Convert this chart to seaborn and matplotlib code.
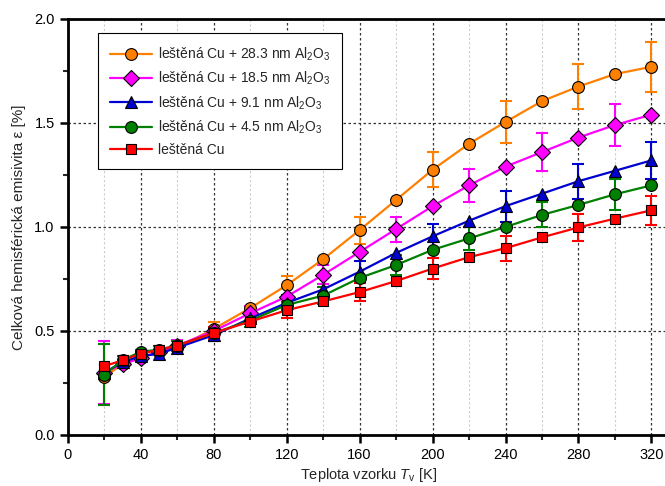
import numpy as np
import pandas as pd
import matplotlib
matplotlib.use("Agg")
import matplotlib.pyplot as plt
from matplotlib.ticker import MultipleLocator
import seaborn as sns

# Sample temperature [K]
temperature = [20, 30, 40, 50, 60, 80, 100, 120, 140, 160, 180, 200, 220, 240, 260, 280, 300, 320]

# Total hemispherical emissivity [%]
eps_283 = [0.28, 0.34, 0.37, 0.40, 0.42, 0.51, 0.61, 0.72, 0.845, 0.985, 1.13, 1.275, 1.40, 1.505, 1.605, 1.675, 1.735, 1.77]
eps_185 = [0.30, 0.34, 0.37, 0.40, 0.43, 0.50, 0.585, 0.665, 0.77, 0.88, 0.99, 1.10, 1.20, 1.29, 1.36, 1.43, 1.49, 1.54]
eps_91 = [0.30, 0.35, 0.38, 0.39, 0.42, 0.48, 0.56, 0.635, 0.70, 0.785, 0.875, 0.955, 1.03, 1.10, 1.16, 1.22, 1.27, 1.32]
eps_45 = [0.29, 0.36, 0.40, 0.41, 0.43, 0.49, 0.55, 0.625, 0.67, 0.755, 0.817, 0.89, 0.945, 1.00, 1.058, 1.106, 1.157, 1.20]
eps_cu = [0.33, 0.36, 0.39, 0.41, 0.43, 0.49, 0.545, 0.60, 0.642, 0.687, 0.74, 0.80, 0.855, 0.898, 0.95, 0.998, 1.04, 1.08]

# Uncertainties (0 = not shown)
err_283 = [0, 0, 0.02, 0, 0, 0.035, 0, 0.045, 0, 0.065, 0, 0.085, 0, 0.10, 0, 0.11, 0, 0.12]
err_185 = [0.15, 0, 0, 0, 0.025, 0, 0.035, 0, 0.045, 0, 0.06, 0, 0.08, 0, 0.09, 0, 0.10, 0]
err_91 = [0, 0, 0.02, 0, 0, 0.03, 0, 0.04, 0, 0.05, 0, 0.06, 0, 0.075, 0, 0.085, 0, 0.09]
err_45 = [0.145, 0, 0, 0, 0.02, 0, 0.03, 0, 0.04, 0, 0.05, 0, 0.055, 0, 0.06, 0, 0.075, 0]
err_cu = [0, 0.02, 0.02, 0.02, 0, 0.03, 0, 0.04, 0, 0.045, 0, 0.05, 0, 0.06, 0, 0.065, 0, 0.07]

labels = [
    "leštěná Cu + 28.3 nm Al$_\\mathregular{2}$O$_\\mathregular{3}$",
    "leštěná Cu + 18.5 nm Al$_\\mathregular{2}$O$_\\mathregular{3}$",
    "leštěná Cu + 9.1 nm Al$_\\mathregular{2}$O$_\\mathregular{3}$",
    "leštěná Cu + 4.5 nm Al$_\\mathregular{2}$O$_\\mathregular{3}$",
    "leštěná Cu",
]
series = [eps_283, eps_185, eps_91, eps_45, eps_cu]
errors = [err_283, err_185, err_91, err_45, err_cu]
colors = ["#FF8000", "#FF00FF", "#0000D0", "#008000", "#FF0000"]
markers = ["o", "D", "^", "o", "s"]
msizes = [8.5, 8, 9, 8.5, 7.5]

sns.set_theme(style="ticks")
plt.rcParams["font.family"] = ["Liberation Sans", "DejaVu Sans"]
plt.rcParams["mathtext.fontset"] = "custom"
plt.rcParams["mathtext.rm"] = "Liberation Sans"
plt.rcParams["mathtext.it"] = "Liberation Sans:italic"

fig = plt.figure(figsize=(6.65, 4.86), dpi=100)
ax = fig.add_axes([0.102, 0.105, 0.905, 0.856])

x = np.array(temperature, dtype=float)
for y, e, c, m, ms, lab in zip(series, errors, colors, markers, msizes, labels):
    y = np.array(y)
    e = np.array(e)
    mask = e > 0
    ax.errorbar(x[mask], y[mask], yerr=e[mask], fmt="none", ecolor=c,
                elinewidth=1.5, capsize=4, capthick=1.5, zorder=2)
    sns.lineplot(x=x, y=y, ax=ax, color=c, marker=m, markersize=ms,
                 markeredgecolor="black", markeredgewidth=0.8,
                 linewidth=1.6, label=lab, zorder=3)

ax.set_xlim(0, 330)
ax.set_ylim(0, 2.0)
ax.xaxis.set_major_locator(MultipleLocator(40))
ax.xaxis.set_minor_locator(MultipleLocator(20))
ax.yaxis.set_major_locator(MultipleLocator(0.5))
ax.yaxis.set_minor_locator(MultipleLocator(0.25))
ax.yaxis.set_major_formatter(matplotlib.ticker.FormatStrFormatter("%.1f"))

ax.grid(which="major", linestyle=(0, (2, 2)), color="#333333", linewidth=0.9)
ax.grid(which="minor", axis="x", linestyle=(0, (2, 2)), color="#cccccc", linewidth=0.8)
ax.set_axisbelow(True)

for side in ["left", "bottom", "top", "right"]:
    ax.spines[side].set_linewidth(2)
    ax.spines[side].set_color("black")

ax.tick_params(which="major", direction="out", length=6, width=1.8, labelsize=10.5,
               colors="black", top=False, right=False)
ax.tick_params(which="minor", direction="out", length=3.5, width=1.5, top=False, right=False)

ax.set_xlabel("Teplota vzorku $\\mathit{T}_\\mathregular{v}$ [K]", fontsize=10.5, labelpad=3)
ax.set_ylabel("Celková hemisférická emisivita ε [%]", fontsize=11, labelpad=6)

leg = ax.legend(loc="upper left", bbox_to_anchor=(0.05, 0.966), borderaxespad=0,
                fontsize=10, frameon=True, fancybox=False, framealpha=1,
                edgecolor="black", handlelength=3.0, labelspacing=0.5,
                borderpad=0.9, handletextpad=0.4)
leg.get_frame().set_linewidth(0.8)

fig.savefig("out.png", dpi=100)
